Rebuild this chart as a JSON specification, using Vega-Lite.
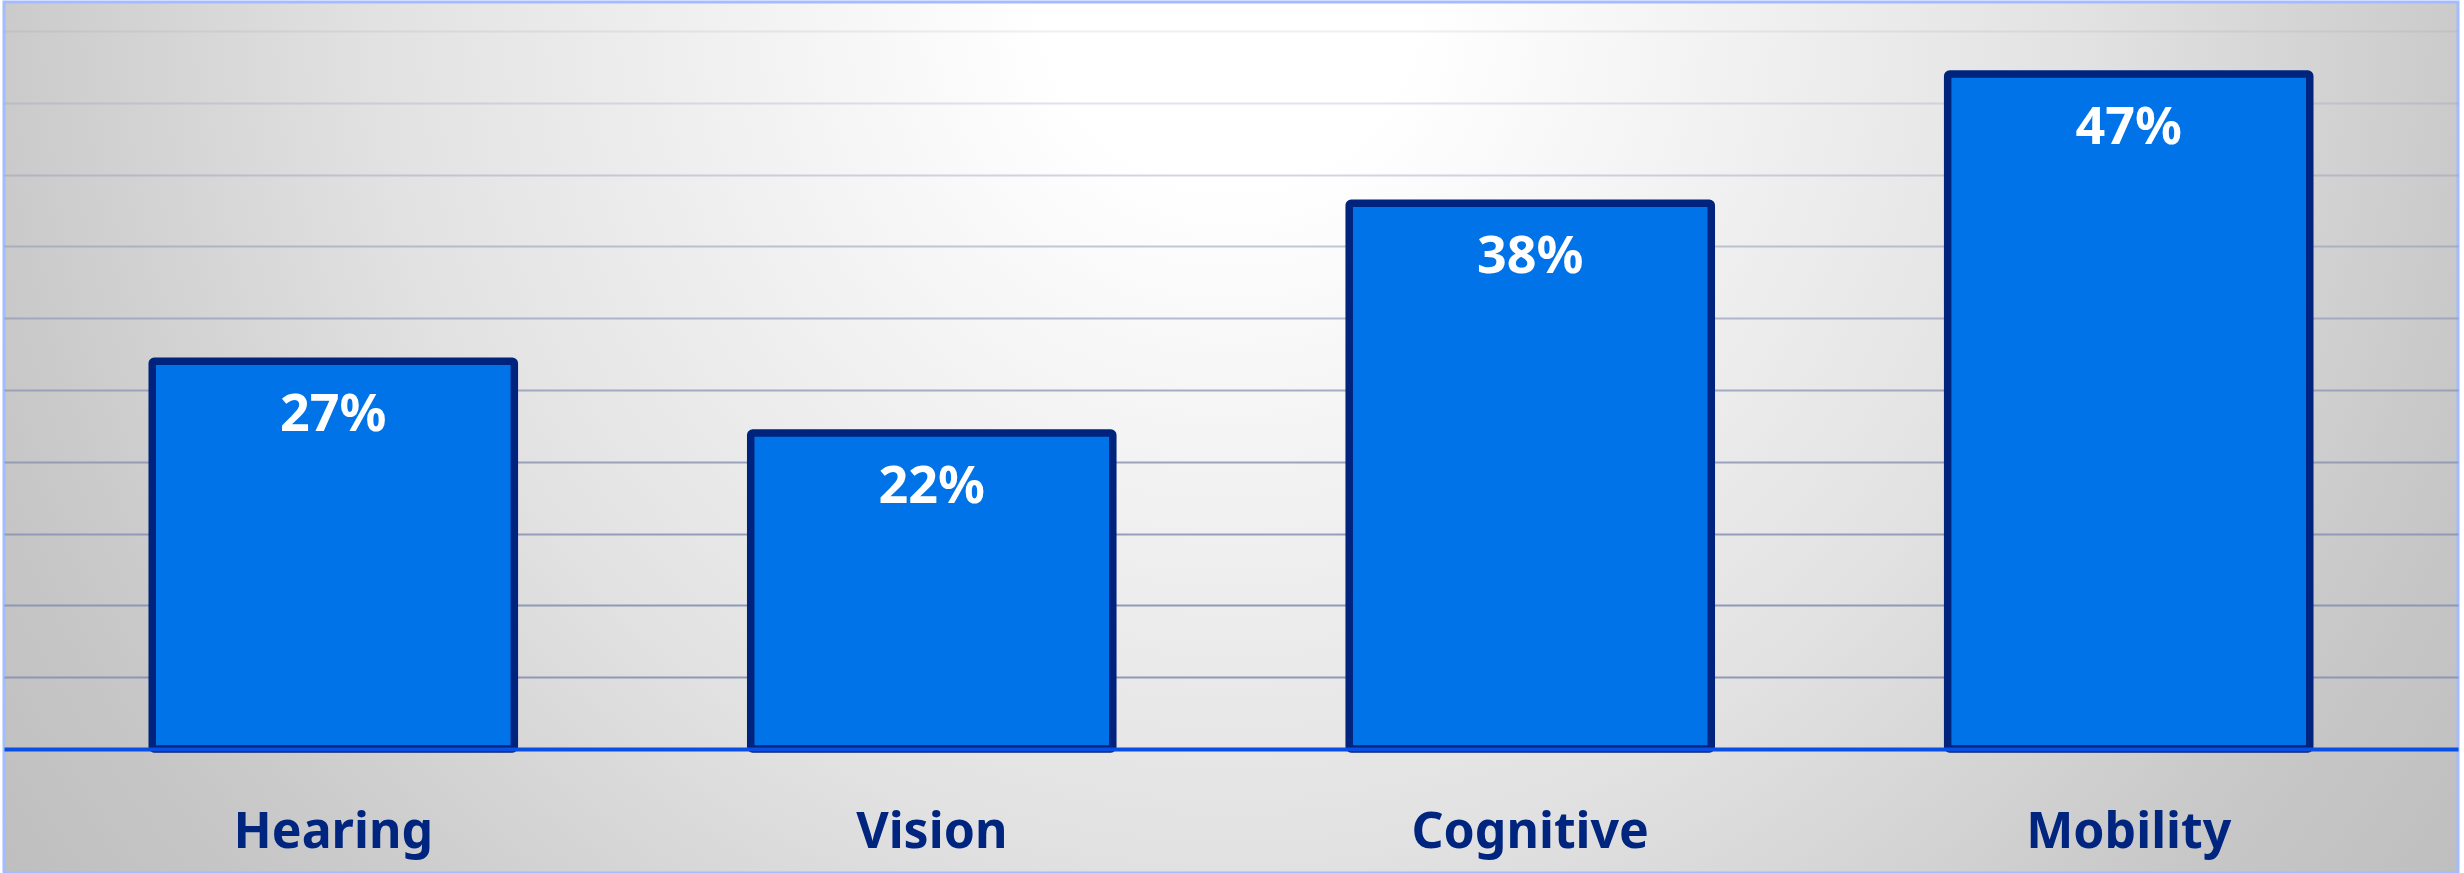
{
  "$schema": "https://vega.github.io/schema/vega-lite/v6.json",
  "width": 2454,
  "height": 871,
  "autosize": {"type": "none"},
  "padding": {"left": 4, "top": 2, "right": 6, "bottom": 0},
  "background": "#ffffff",
  "config": {
    "view": {
      "fill": {
        "gradient": "radial",
        "x1": 0.5, "y1": 0.3217, "r1": 0,
        "x2": 0.5, "y2": 0.3217, "r2": 0.6316,
        "stops": [
          {"offset": 0, "color": "#ffffff"},
          {"offset": 0.12, "color": "#ffffff"},
          {"offset": 0.3, "color": "#f3f3f3"},
          {"offset": 0.55, "color": "#e2e2e2"},
          {"offset": 0.8, "color": "#cacaca"},
          {"offset": 0.85, "color": "#c6c6c6"},
          {"offset": 1, "color": "#bdbdbd"}
        ]
      },
      "stroke": "#A4BBFF",
      "strokeWidth": 3
    }
  },
  "data": {
    "values": [
      {"category": "Hearing", "value": 0.27},
      {"category": "Vision", "value": 0.22},
      {"category": "Cognitive", "value": 0.38},
      {"category": "Mobility", "value": 0.47}
    ]
  },
  "encoding": {
    "x": {
      "field": "category",
      "type": "nominal",
      "sort": null,
      "scale": {"paddingInner": 0.395, "paddingOuter": 0.2477},
      "axis": {
        "title": null,
        "orient": "bottom",
        "offset": -124,
        "domainColor": "#0A4FE3",
        "domainWidth": 4,
        "ticks": false,
        "tickSize": 0,
        "labelPadding": 98,
        "labelBaseline": "alphabetic",
        "labelFont": "Noto Sans",
        "labelFontSize": 50,
        "labelFontWeight": "bold",
        "labelColor": "#00257F",
        "labelAngle": 0,
        "labelLimit": 0,
        "labelOverlap": false,
        "grid": false,
        "zindex": 1
      }
    },
    "y": {
      "field": "value",
      "type": "quantitative",
      "scale": {"domain": [-0.08635, 0.5202], "nice": false, "zero": false},
      "axis": {
        "title": null,
        "values": [0.05, 0.1, 0.15, 0.2, 0.25, 0.3, 0.35, 0.4, 0.45, 0.5],
        "labels": false,
        "ticks": false,
        "domain": false,
        "grid": true,
        "gridColor": "#8A93B3",
        "gridWidth": 2,
        "gridOpacity": {
          "condition": [
            {"test": "datum.value > 0.475", "value": 0.15},
            {"test": "datum.value > 0.425", "value": 0.25},
            {"test": "datum.value > 0.375", "value": 0.38},
            {"test": "datum.value > 0.325", "value": 0.5},
            {"test": "datum.value > 0.275", "value": 0.62},
            {"test": "datum.value > 0.225", "value": 0.74},
            {"test": "datum.value > 0.175", "value": 0.82},
            {"test": "datum.value > 0.125", "value": 0.88},
            {"test": "datum.value > 0.075", "value": 0.92}
          ],
          "value": 0.95
        },
        "zindex": 0
      }
    }
  },
  "layer": [
    {
      "mark": {
        "type": "bar",
        "fill": "#0073E8",
        "stroke": "#00237D",
        "strokeWidth": 7.5,
        "cornerRadius": 2
      },
      "encoding": {"y2": {"datum": 0}}
    },
    {
      "mark": {
        "type": "text",
        "dy": 70,
        "baseline": "alphabetic",
        "align": "center",
        "font": "Noto Sans",
        "fontSize": 52,
        "fontWeight": "bold",
        "color": "#ffffff"
      },
      "encoding": {
        "text": {"field": "value", "type": "quantitative", "format": ".0%"}
      }
    }
  ]
}
